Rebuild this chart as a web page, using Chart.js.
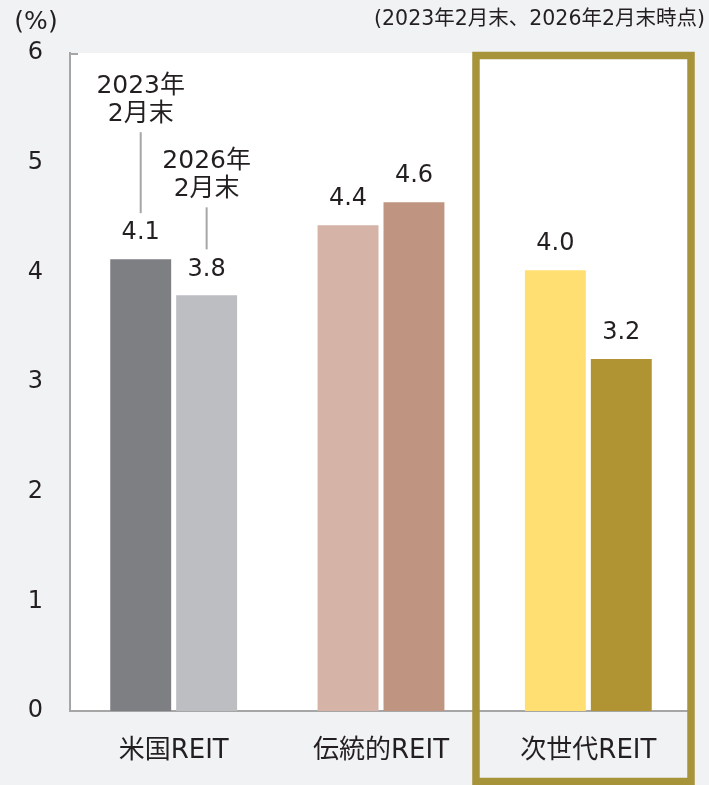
<!DOCTYPE html>
<html>
<head>
<meta charset="utf-8">
<script src="https://cdn.jsdelivr.net/npm/chart.js@4.4.0/dist/chart.umd.min.js"></script>
<style>
  html, body { margin: 0; padding: 0; background: #f1f2f4; }
  #wrap { width: 709px; height: 785px; position: relative; }
</style>
</head>
<body>
<div id="wrap"><canvas id="myBarChart" width="709" height="785"></canvas></div>
<script>
// data
const categories = ["米国REIT", "伝統的REIT", "次世代REIT"];
const seriesNames = ["2023年\n2月末", "2026年\n2月末"];
const feb2023 = [4.12, 4.43, 4.02];
const feb2026 = [3.79, 4.64, 3.21];
const yTicks = [0, 1, 2, 3, 4, 5, 6];
const unitLabel = "(%)";
const noteLabel = "(2023年2月末、2026年2月末時点)";

const colors2023 = ["#7e7f83", "#d5b3a6", "#ffdf71"];
const colors2026 = ["#bdbec2", "#bf9481", "#b09434"];

const FONT = "'DejaVu Sans', 'Noto Sans CJK JP', sans-serif";
const TEXT = "#231f20";

const bgPlugin = {
    id: "bg",
    beforeDraw(chart) {
        const { ctx, chartArea } = chart;
        ctx.save();
        ctx.fillStyle = "#f1f2f4";
        ctx.fillRect(0, 0, chart.width, chart.height);
        ctx.fillStyle = "#ffffff";
        ctx.fillRect(chartArea.left, chartArea.top, chartArea.right - chartArea.left, chartArea.bottom - chartArea.top);
        ctx.restore();
    }
};

const labelPlugin = {
    id: "labels",
    afterDatasetsDraw(chart) {
        const { ctx, chartArea, scales } = chart;
        ctx.save();
        ctx.fillStyle = TEXT;
        ctx.textAlign = "center";
        ctx.textBaseline = "middle";

        // value labels
        ctx.font = "24px " + FONT;
        chart.data.datasets.forEach((ds, i) => {
            const meta = chart.getDatasetMeta(i);
            meta.data.forEach((bar, j) => {
                ctx.fillText(ds.data[j].toFixed(1), bar.x, bar.y - 26);
            });
        });

        // series callouts on the first category
        const leader = [81, 42];
        ctx.font = "25px " + FONT;
        chart.data.datasets.forEach((ds, i) => {
            const bar = chart.getDatasetMeta(i).data[0];
            const lineBottom = bar.y - 46;
            const lineTop = lineBottom - leader[i];
            ctx.strokeStyle = "#a6a6a6";
            ctx.lineWidth = 2;
            ctx.beginPath();
            ctx.moveTo(bar.x, lineBottom);
            ctx.lineTo(bar.x, lineTop);
            ctx.stroke();
            const lines = seriesNames[i].split("\n");
            ctx.fillText(lines[1], bar.x, lineTop - 18);
            ctx.fillText(lines[0], bar.x, lineTop - 46);
        });

        // small top tick on the y axis
        ctx.strokeStyle = "#a6a6a6";
        ctx.lineWidth = 2;
        ctx.beginPath();
        ctx.moveTo(chartArea.left, chartArea.top + 1);
        ctx.lineTo(chartArea.left + 8, chartArea.top + 1);
        ctx.stroke();

        // unit + note
        ctx.font = "25px " + FONT;
        ctx.fillText(unitLabel, 36, 22);
        ctx.font = "20.5px " + FONT;
        ctx.textAlign = "right";
        ctx.fillText(noteLabel, 705, 20);

        // highlight box around the last category
        const x = scales.x;
        const last = categories.length - 1;
        const cw = x.getPixelForValue(1) - x.getPixelForValue(0);
        const cx = x.getPixelForValue(last);
        ctx.strokeStyle = "#a6933a";
        ctx.lineWidth = 7.5;
        const left = cx - cw * 0.56 + 3.75;
        const right = chartArea.right - 1;
        ctx.strokeRect(left, chartArea.top + 2.5, right - left, chart.height - chartArea.top - 6);
        ctx.restore();
    }
};

const ctx = document.getElementById("myBarChart").getContext("2d");
const myBarChart = new Chart(ctx, {
    type: "bar",
    data: {
        labels: categories,
        datasets: [{
            label: seriesNames[0],
            data: feb2023,
            backgroundColor: colors2023,
            categoryPercentage: 0.636,
            barPercentage: 0.924
        }, {
            label: seriesNames[1],
            data: feb2026,
            backgroundColor: colors2026,
            categoryPercentage: 0.636,
            barPercentage: 0.924
        }]
    },
    options: {
        responsive: false,
        animation: false,
        layout: { padding: { top: 53, right: 17, left: 0, bottom: 0 } },
        plugins: {
            legend: { display: false },
            tooltip: { enabled: false }
        },
        scales: {
            x: {
                grid: { display: false, drawTicks: false },
                border: { color: "#a6a6a6", width: 2 },
                ticks: { color: TEXT, font: { size: 26, family: FONT }, padding: 25 },
                afterFit: (s) => { s.height = 74; }
            },
            y: {
                min: 0,
                max: 6,
                afterBuildTicks: (s) => { s.ticks = yTicks.map(v => ({ value: v })); },
                grid: { display: false, drawTicks: false },
                border: { color: "#a6a6a6", width: 2 },
                ticks: { color: TEXT, font: { size: 24, family: FONT }, padding: 27 },
                afterFit: (s) => { s.width = 70; }
            }
        }
    },
    plugins: [bgPlugin, labelPlugin]
});
</script>
</body>
</html>
